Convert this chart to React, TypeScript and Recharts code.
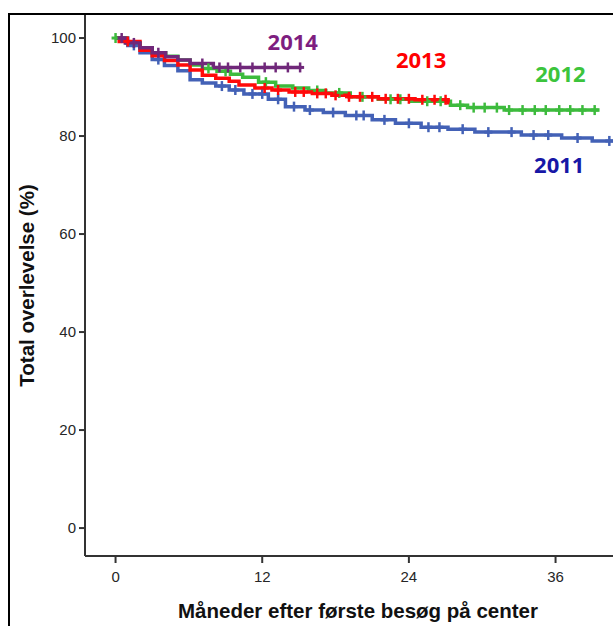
import { LineChart, Line, XAxis, YAxis, ReferenceDot } from "recharts"

// Kaplan-Meier curves: step times (months) and survival (%) after each step
const t2011 = [0, 1.0, 2.0, 3.0, 4.0, 5.1, 6.1, 7.1, 8.2, 9.3, 10.5, 12.5, 13.9, 15.5, 17.0, 18.8, 21.0, 22.9, 25.0, 27.2, 29.4, 33.2, 36.5, 39.0]
const s2011 = [100, 98.5, 97.0, 95.6, 94.4, 93.3, 91.5, 90.8, 90.2, 89.4, 88.6, 87.5, 86.0, 85.3, 84.8, 84.2, 83.3, 82.6, 81.8, 81.4, 80.8, 80.2, 79.6, 79.0]
const c2011 = [1.5, 3.5, 8.7, 9.8, 11.2, 12.0, 13.3, 14.6, 15.9, 17.8, 19.7, 20.3, 22.0, 24.0, 25.6, 26.5, 28.4, 30.5, 32.4, 34.2, 35.4, 37.8, 40.4]
const end2011 = 42

const t2012 = [0, 0.9, 2.0, 3.0, 4.1, 5.1, 6.1, 7.1, 8.3, 9.4, 10.4, 11.7, 13.1, 14.5, 15.8, 17.2, 19.2, 21.5, 24.2, 27.4, 28.8, 31.8]
const s2012 = [100, 99.0, 98.0, 97.0, 96.3, 95.5, 94.5, 93.8, 93.2, 92.6, 92.0, 91.0, 90.2, 89.8, 89.3, 88.8, 88.0, 87.5, 87.1, 86.3, 85.8, 85.3]
const c2012 = [0, 7.6, 9.0, 12.3, 16.5, 18.3, 20.2, 22.5, 23.3, 25.5, 26.6, 28.2, 29.3, 30.2, 31.2, 32.2, 33.3, 34.3, 35.2, 36.3, 37.2, 38.2, 39.2]
const end2012 = 39.6

const t2013 = [0, 0.3, 2.0, 3.0, 4.0, 5.1, 6.1, 7.1, 8.2, 9.3, 10.1, 11.4, 12.8, 14.2, 16.1, 17.7, 19.1, 21.5, 24.5, 27.2]
const s2013 = [100, 99.3, 97.5, 96.4, 95.4, 94.5, 93.5, 92.4, 91.8, 91.2, 90.4, 89.8, 89.4, 89.0, 88.7, 88.3, 88.0, 87.6, 87.4, 86.8]
const c2013 = [1.0, 12.2, 13.3, 14.7, 15.4, 16.5, 17.2, 18.0, 19.1, 20.0, 21.0, 22.1, 23.1, 24.0, 25.1, 26.1, 27.0]
const end2013 = 27.3

const t2014 = [0, 0.8, 2.0, 3.0, 4.1, 5.1, 6.1, 8.0]
const s2014 = [100, 99.0, 98.0, 97.0, 96.2, 95.5, 94.8, 94.0]
const c2014 = [0.5, 1.5, 3.5, 7.1, 8.5, 9.2, 10.2, 11.2, 12.2, 13.1, 14.1, 15.1]
const end2014 = 15.2

const xTicks = [0, 12, 24, 36]
const yTicks = [0, 20, 40, 60, 80, 100]

type Pt = { t: number; s: number; c: boolean }

// merge steps and censor times into one sorted point list
function buildCurve(times: number[], surv: number[], censors: number[], end: number): Pt[] {
  const valueAt = (t: number) => {
    let v = surv[0]
    times.forEach((tt, i) => { if (tt <= t) v = surv[i] })
    return v
  }
  const pts: Pt[] = times.map((t, i) => ({ t, s: surv[i], c: false }))
  censors.forEach(t => pts.push({ t, s: valueAt(t), c: true }))
  pts.push({ t: end, s: valueAt(end), c: false })
  return pts.sort((a, b) => a.t - b.t)
}

const curves = [
  { name: "2011", line: "#4361B6", text: "#1717A6", data: buildCurve(t2011, s2011, c2011, end2011), lx: 36.3, ly: 74.1 },
  { name: "2012", line: "#3DBB3D", text: "#3CC43C", data: buildCurve(t2012, s2012, c2012, end2012), lx: 36.4, ly: 92.7 },
  { name: "2013", line: "#FF0A0A", text: "#FF0000", data: buildCurve(t2013, s2013, c2013, end2013), lx: 25.0, ly: 95.5 },
  { name: "2014", line: "#70287A", text: "#7E1E80", data: buildCurve(t2014, s2014, c2014, end2014), lx: 14.5, ly: 99.2 },
]

const censorMark = (color: string) => (props: any) => {
  const { cx, cy, payload, index } = props
  if (!payload?.c || cx == null) return <g key={index} />
  return (
    <g key={index}>
      <line x1={cx} x2={cx} y1={cy - 5} y2={cy + 5} stroke={color} strokeWidth={2.5} />
      <line x1={cx - 4} x2={cx + 4} y1={cy} y2={cy} stroke={color} strokeWidth={3} />
    </g>
  )
}

const tickStyle = { fontFamily: "Liberation Sans, Arial, sans-serif", fontSize: 15, fill: "#262626" }

export default function App() {
  return (
    <div style={{ position: "absolute", left: 8, top: 13, width: 603, height: 611, borderLeft: "2px solid #000", borderTop: "2px solid #000", background: "#fff", overflow: "hidden" }}>
      <LineChart width={603} height={611} margin={{ top: 0, right: 0, bottom: 0, left: 0 }}>
        <XAxis
          type="number"
          dataKey="t"
          domain={[-2.5, 40.7]}
          allowDataOverflow
          ticks={xTicks}
          tickSize={7}
          tickMargin={8}
          height={70}
          stroke="#333"
          strokeWidth={2}
          tick={tickStyle}
          label={{
            value: "Måneder efter første besøg på center",
            position: "insideBottom",
            offset: 8,
            dx: 9,
            style: { fontFamily: "Liberation Sans, Arial, sans-serif", fontSize: 20.5, fontWeight: 700, fill: "#111" },
          }}
        />
        <YAxis
          type="number"
          domain={[-5.7, 104.7]}
          allowDataOverflow
          ticks={yTicks}
          tickSize={6}
          tickMargin={3}
          width={75}
          stroke="#333"
          strokeWidth={2}
          tick={tickStyle}
          label={{
            value: "Total overlevelse (%)",
            angle: -90,
            position: "insideLeft",
            offset: 17,
            style: { textAnchor: "middle", fontFamily: "Liberation Sans, Arial, sans-serif", fontSize: 20.5, fontWeight: 700, fill: "#111" },
          }}
        />
        {curves.map(c => (
          <Line
            key={c.name}
            data={c.data}
            dataKey="s"
            type="stepAfter"
            stroke={c.line}
            strokeWidth={3.5}
            dot={censorMark(c.line)}
            activeDot={false}
            isAnimationActive={false}
          />
        ))}
        {curves.map(c => (
          <ReferenceDot
            key={"l" + c.name}
            x={c.lx}
            y={c.ly}
            r={0}
            fill="none"
            stroke="none"
            label={{
              value: c.name,
              position: "center",
              fill: c.text,
              style: { fontFamily: "Open Sans, sans-serif", fontSize: 22, fontWeight: 700, fill: c.text },
            }}
          />
        ))}
      </LineChart>
    </div>
  )
}
